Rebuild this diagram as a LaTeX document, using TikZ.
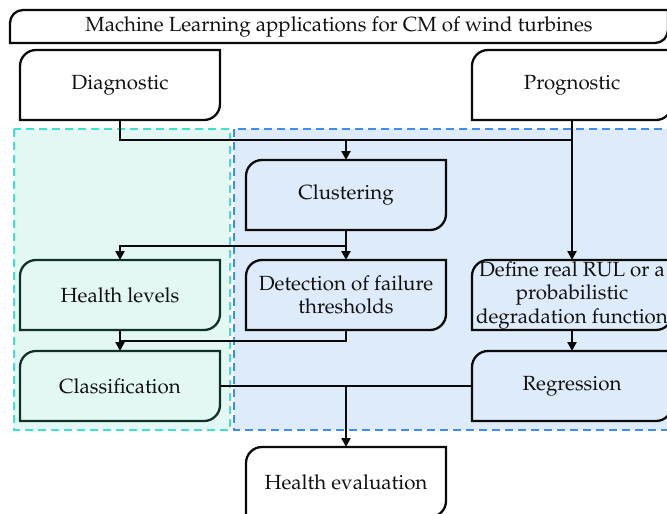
\documentclass[tikz,border=0pt]{standalone}
\usepackage[T1]{fontenc}
\usepackage{mathpazo}
\usetikzlibrary{arrows.meta,calc}
\pgfdeclarelayer{regions}
\pgfdeclarelayer{shapes}
\pgfsetlayers{regions,shapes,main}
\definecolor{gfill}{HTML}{E3F8F5}
\definecolor{gline}{HTML}{40E0D0}
\definecolor{bfill}{HTML}{DEEBFA}
\definecolor{bline}{HTML}{3D8EEE}
\definecolor{ink}{HTML}{0A0A0A}
\definecolor{gink}{HTML}{10302A}
\definecolor{txt}{HTML}{111111}
\tikzset{
  box/.style={rectangle, minimum width=200pt, minimum height=70pt, inner sep=0pt, align=center, text=txt, font=\fontsize{20.5}{23.5}\selectfont},
  conn/.style={draw=ink, line width=2.3pt},
  arr/.style={conn, -{Triangle[width=9pt,length=9pt]}},
  region/.style={dash pattern=on 8pt off 5pt, line width=2.8pt}
}
% #1 node name, #2 style, #3 radius, #4 half width, #5 half height
\newcommand\boxshape[5]{%
  \begin{pgfonlayer}{shapes}
  \filldraw[line width=2.3pt,#2] ([shift={(-#4,-#5)}]#1.center) -- ([shift={(-#4,#5-#3)}]#1.center) arc[start angle=180,end angle=90,radius=#3] -- ([shift={(#4,#5)}]#1.center) -- ([shift={(#4,-#5+#3)}]#1.center) arc[start angle=0,end angle=-90,radius=#3] -- cycle;
  \end{pgfonlayer}}
\begin{document}
\begin{tikzpicture}[x=1pt,y=-1pt]
\useasboundingbox (0,0) rectangle (667,514);
\clip (0,0) rectangle (667,514);
\begin{pgfonlayer}{regions}
\filldraw[region, fill=bfill, draw=bline] (234,129) rectangle (680,430);
\filldraw[region, fill=gfill, draw=gline] (14,129) rectangle (230,430);
\end{pgfonlayer}
% title
\node[box, minimum width=658pt, minimum height=33pt] (title) at (339,26.5) {Machine Learning applications for CM of wind turbines};
\boxshape{title}{draw=ink,fill=white}{13pt}{329pt}{16.5pt}
% nodes
\node[box] (diag) at (120,85) {Diagnostic};
\boxshape{diag}{draw=ink,fill=white}{16pt}{100pt}{35pt}
\node[box] (prog) at (572,85) {Prognostic};
\boxshape{prog}{draw=ink,fill=white}{16pt}{100pt}{35pt}
\node[box] (clus) at (346,195) {Clustering};
\boxshape{clus}{draw=ink,fill=bfill}{16pt}{100pt}{35pt}
\node[box] (hl) at (120,295) {Health levels};
\boxshape{hl}{draw=gink,fill=gfill}{16pt}{100pt}{35pt}
\node[box] (det) at (346,295) {Detection of failure\\thresholds};
\boxshape{det}{draw=ink,fill=bfill}{16pt}{100pt}{35pt}
\node[box] (def) at (572,295) {Define real RUL or a\\probabilistic\\degradation function};
\boxshape{def}{draw=ink,fill=bfill}{16pt}{100pt}{35pt}
\node[box] (cls) at (120,386) {Classification};
\boxshape{cls}{draw=gink,fill=gfill}{16pt}{100pt}{35pt}
\node[box] (reg) at (572,386) {Regression};
\boxshape{reg}{draw=ink,fill=bfill}{16pt}{100pt}{35pt}
\node[box] (he) at (346,482) {Health evaluation};
\boxshape{he}{draw=ink,fill=white}{16pt}{100pt}{35pt}
% junction levels
\coordinate (ytop) at (0,140);
\coordinate (ymid) at (0,246);
\coordinate (ylow) at (0,341);
% named box edges (box outline is 200 x 70 around each centre)
\coordinate (diagS) at ($(diag.center)+(0,35)$);
\coordinate (progS) at ($(prog.center)+(0,35)$);
\coordinate (clusN) at ($(clus.center)+(0,-35)$);
\coordinate (clusS) at ($(clus.center)+(0,35)$);
\coordinate (hlN) at ($(hl.center)+(0,-35)$);
\coordinate (hlS) at ($(hl.center)+(0,35)$);
\coordinate (detN) at ($(det.center)+(0,-35)$);
\coordinate (detS) at ($(det.center)+(0,35)$);
\coordinate (defN) at ($(def.center)+(0,-35)$);
\coordinate (defS) at ($(def.center)+(0,35)$);
\coordinate (clsN) at ($(cls.center)+(0,-35)$);
\coordinate (clsE) at ($(cls.center)+(100,0)$);
\coordinate (regN) at ($(reg.center)+(0,-35)$);
\coordinate (regW) at ($(reg.center)+(-100,0)$);
\coordinate (heN) at ($(he.center)+(0,-35)$);
% connectors
\draw[conn] (diagS) |- (progS |- ytop);
\draw[arr] (progS) -- (defN);
\draw[arr] (clusN |- ytop) -- (clusN);
\draw[arr] (clusS) -- (detN);
\draw[arr] (clusS |- ymid) -| (hlN);
\draw[arr] (hlS) -- (clsN);
\draw[conn] (detS) |- (hlS |- ylow);
\draw[arr] (defS) -- (regN);
\draw[conn] (clsE) -- (regW);
\draw[arr] (heN |- clsE) -- (heN);
\end{tikzpicture}
\end{document}
